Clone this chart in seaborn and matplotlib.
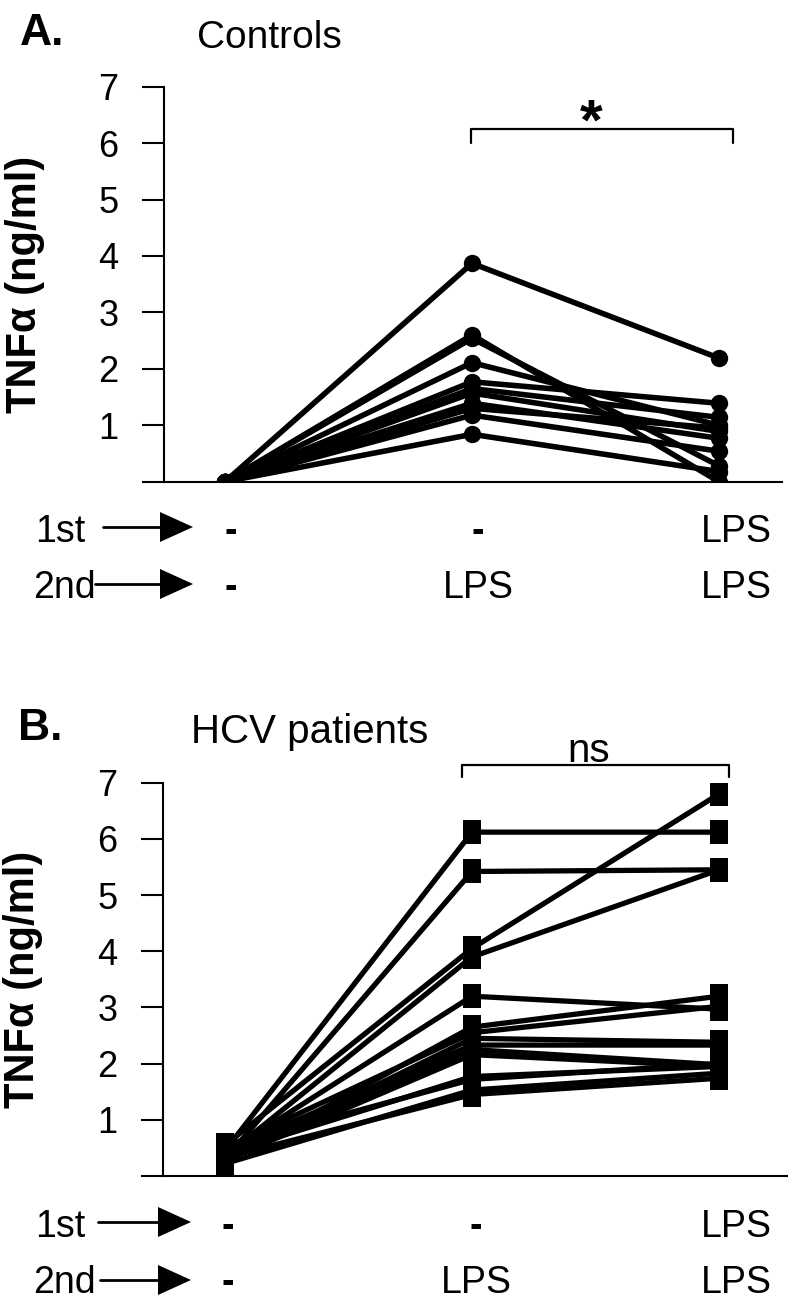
import numpy as np
import pandas as pd
import matplotlib
matplotlib.use("Agg")
import matplotlib.pyplot as plt
import seaborn as sns
from matplotlib.lines import Line2D
from matplotlib.patches import Polygon

# ---------------- data ----------------
conditions = ["-/-", "-/LPS", "LPS/LPS"]
first_row = ["-", "-", "LPS"]
second_row = ["-", "LPS", "LPS"]
y_ticks = [0, 1, 2, 3, 4, 5, 6, 7]
y_tick_labels = ["", "1", "2", "3", "4", "5", "6", "7"]

controls_none = [0, 0, 0, 0, 0, 0, 0, 0, 0, 0, 0]
controls_lps = [3.87, 2.60, 2.54, 2.11, 1.77, 1.65, 1.57, 1.39, 1.30, 1.18, 0.84]
controls_lps_lps = [2.19, 0.00, 0.28, 1.00, 1.39, 1.14, 0.89, 0.77, 0.95, 0.54, 0.18]

hcv_none = [0.45, 0.30, 0.55, 0.35, 0.40, 0.25, 0.50, 0.30, 0.45, 0.35, 0.28, 0.40, 0.52, 0.22, 0.33]
hcv_lps = [6.12, 5.42, 4.05, 3.90, 3.20, 2.65, 2.55, 2.45, 2.33, 2.25, 2.16, 1.77, 1.72, 1.53, 1.45]
hcv_lps_lps = [6.12, 5.45, 6.80, 5.45, 2.97, 3.20, 3.02, 2.38, 2.33, 1.98, 1.95, 1.95, 2.00, 1.83, 1.74]


def long_form(a, b, c):
    rows = []
    for i, vals in enumerate(zip(a, b, c)):
        for j, v in enumerate(vals):
            rows.append({"subject": i, "pos": j, "condition": conditions[j], "tnf": v})
    return pd.DataFrame(rows)


df_ctrl = long_form(controls_none, controls_lps, controls_lps_lps)
df_hcv = long_form(hcv_none, hcv_lps, hcv_lps_lps)

# ---------------- style ----------------
sns.set_style("ticks")
plt.rcParams["font.family"] = ["Liberation Sans", "DejaVu Sans"]
plt.rcParams["text.color"] = "black"
plt.rcParams["axes.labelcolor"] = "black"
plt.rcParams["ytick.color"] = "black"
plt.rcParams["xtick.color"] = "black"

W, H = 800, 1311
fig = plt.figure(figsize=(W / 100, H / 100), dpi=100)


def fx(x):
    return x / W


def fy(y):
    return 1 - y / H


def make_axes(left, right, top, bottom):
    return fig.add_axes([fx(left), fy(bottom), fx(right) - fx(left), fy(top) - fy(bottom)])


axA = make_axes(164, 782, 86.7, 481.7)
axB = make_axes(163, 787, 782.7, 1176)

rect_marker = [(-0.75, -1), (0.75, -1), (0.75, 1), (-0.75, 1), (-0.75, -1)]

sns.lineplot(data=df_ctrl, x="pos", y="tnf", units="subject", estimator=None,
             color="black", lw=4.0, marker="o", markersize=12.5,
             markeredgecolor="black", markeredgewidth=0, ax=axA, legend=False)
sns.lineplot(data=df_hcv, x="pos", y="tnf", units="subject", estimator=None,
             color="black", lw=3.8, marker=rect_marker, markersize=17.5,
             markeredgecolor="black", markeredgewidth=0, ax=axB, legend=False)

for ax, xr in ((axA, (-0.247, 2.255)), (axB, (-0.251, 2.275))):
    ax.set_xlim(*xr)
    ax.set_ylim(0, 7)
    ax.set_yticks(y_ticks)
    ax.set_yticklabels(y_tick_labels)
    ax.set_xticks([])
    ax.set_xlabel("")
    ax.set_ylabel("TNF\u03b1 (ng/ml)", fontsize=30, fontweight="bold", color="black")
    ax.yaxis.set_label_coords(-0.193, 0.5)
    for s in ("top", "right"):
        ax.spines[s].set_visible(False)
    for s in ("left", "bottom"):
        ax.spines[s].set_linewidth(1.5)
        ax.spines[s].set_color("black")
    ax.tick_params(axis="y", direction="out", length=16, width=1.5, labelsize=26,
                   pad=17, colors="black")
    ax.patch.set_alpha(0)

# ---------------- titles ----------------
fig.text(fx(20), fy(45), "A.", fontsize=32, fontweight="bold", va="baseline", ha="left", color="black")
fig.text(fx(197), fy(48), "Controls", fontsize=28, va="baseline", ha="left", color="black")
fig.text(fx(18), fy(740), "B.", fontsize=32, fontweight="bold", va="baseline", ha="left", color="black")
fig.text(fx(191), fy(743), "HCV patients", fontsize=29, va="baseline", ha="left", color="black")


# ---------------- treatment rows ----------------
def arrow(x0, x1, y):
    xh = x1 - 33
    fig.add_artist(Line2D([fx(x0), fx(xh)], [fy(y), fy(y)], transform=fig.transFigure,
                          color="black", lw=2))
    fig.add_artist(Polygon([[fx(xh), fy(y - 15)], [fx(x1), fy(y)], [fx(xh), fy(y + 15)]],
                           closed=True, transform=fig.transFigure, color="black", lw=0))


def rows(base1, base2, c1, c2, a1, a2, xs):
    fig.text(fx(35), fy(base1), "1st", fontsize=27, va="baseline", ha="left", color="black")
    fig.text(fx(33), fy(base2), "2nd", fontsize=27, va="baseline", ha="left", color="black")
    arrow(a1[0], a1[1], c1)
    arrow(a2[0], a2[1], c2)
    for x, t1, t2 in zip(xs, first_row, second_row):
        for t, b in ((t1, base1), (t2, base2)):
            fw = "bold" if t == "-" else "normal"
            fig.text(fx(x), fy(b), t, fontsize=27, va="baseline", ha="center",
                     fontweight=fw, color="black")


rows(542, 598, 527, 584, (103, 193), (95, 193), [231, 478, 736])
rows(1237, 1293, 1222, 1280, (98, 191), (100, 191), [228, 476, 736])


# ---------------- significance brackets ----------------
def bracket(x0, x1, y, y_end):
    fig.add_artist(Line2D([fx(x0), fx(x0), fx(x1), fx(x1)],
                          [fy(y_end), fy(y), fy(y), fy(y_end)],
                          transform=fig.transFigure, color="black", lw=1.6))


bracket(471, 733, 129, 143)
fig.text(fx(591), fy(140), "*", fontsize=42, fontweight="bold", va="baseline", ha="center", color="black")
bracket(462, 729, 765, 777)
fig.text(fx(589), fy(762), "ns", fontsize=29, va="baseline", ha="center", color="black")

fig.savefig("out.png", dpi=100)
